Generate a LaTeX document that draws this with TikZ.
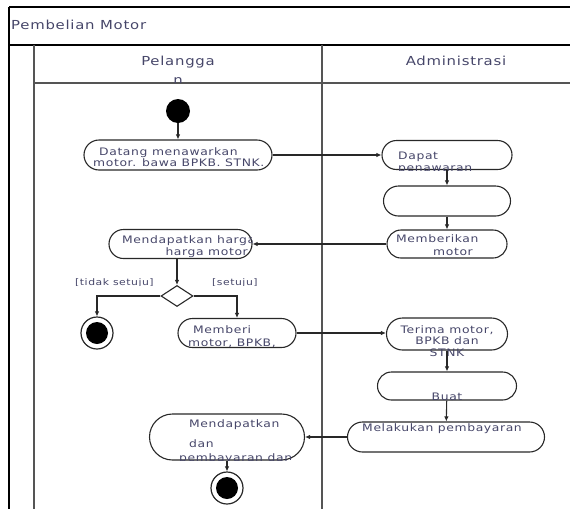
\documentclass[tikz,border=0pt]{standalone}
\usepackage{fontspec}
\setmainfont{DejaVu Sans}[FakeStretch=1.2, LetterSpace=6]
\usetikzlibrary{shapes.misc,shapes.geometric,arrows.meta}
\definecolor{txt}{RGB}{70,70,105}
\definecolor{edge}{RGB}{40,40,40}
\definecolor{frm}{RGB}{85,85,85}
% clip to the outline of a rounded activity box
\newcommand{\clipbox}[2]{\clip[rounded corners=#2] (#1.west |- #1.north) rectangle (#1.east |- #1.south);}
\begin{document}
\begin{tikzpicture}[x=1pt,y=-1pt,
  act/.style={draw=edge, line width=1.1pt, rounded rectangle, inner sep=0pt},
  lbl/.style={text=txt, font=\fontsize{10.3}{11.5}\selectfont, inner sep=0pt},
  guard/.style={text=txt, font=\fontsize{9}{10}\selectfont, inner sep=0pt, anchor=base west},
  hdr/.style={text=txt, font=\fontsize{12.4}{14}\selectfont, inner sep=0pt},
  flow/.style={draw=edge, line width=1.1pt, -{Latex[length=5pt,width=4.5pt]}},
  initial/.style={circle, fill=black, minimum size=24pt, inner sep=0pt},
  final/.style={circle, draw=edge, line width=1.2pt, minimum size=32pt, inner sep=0pt,
    path picture={\fill[black] (path picture bounding box.center) circle (11pt);}},
  choice/.style={diamond, draw=edge, line width=1.1pt, minimum width=32pt, minimum height=21pt, inner sep=0pt}]
\useasboundingbox (0,0) rectangle (570,509);

% swimlane frame
\draw[black, line width=1.4pt] (9,7) -- (9,509);
\draw[black, line width=2pt] (9,7) -- (575,7);
\draw[black, line width=2pt] (9,44.5) -- (575,44.5);
\draw[frm, line width=1.3pt] (34,44.5) -- (34,509);
\draw[frm, line width=1.3pt] (322,44.5) -- (322,509);
\draw[frm, line width=1.3pt] (34,83) -- (575,83);

\node[hdr, anchor=base west] (title) at (11,29.5) {Pembelian Motor};
\node[hdr, anchor=base] (lane1) at (178,65) {Pelangga};
\begin{scope}
  \clip (34,45) rectangle (322,82.5);
  \node[hdr, anchor=base] (lane1b) at (178,84.5) {n};
\end{scope}
\node[hdr, anchor=base] (lane2) at (456,65) {Administrasi};

% activity nodes
\node[initial] (start) at (178,111) {};
\node[act, minimum width=188pt, minimum height=30pt] (b1) at (178,155) {};
\node[act, minimum width=130pt, minimum height=29pt] (b2) at (447,155) {};
\node[act, minimum width=127pt, minimum height=30pt] (b3) at (447,201) {};
\node[act, minimum width=120pt, minimum height=28pt] (b4) at (447,244) {};
\node[act, minimum width=143pt, minimum height=29pt] (b5) at (180.5,244) {};
\node[choice] (dec) at (177,296) {};
\node[final] (end1) at (97,333) {};
\node[act, minimum width=118pt, minimum height=29pt] (b6) at (237,333) {};
\node[act, minimum width=121pt, minimum height=32pt] (b7) at (447,334) {};
\node[act, minimum width=139pt, minimum height=28pt] (b8) at (447,386) {};
\node[act, minimum width=197pt, minimum height=30pt] (b9) at (446,437) {};
\node[act, minimum width=155pt, minimum height=46pt] (b10) at (227,437) {};
\node[final] (end2) at (227,488) {};

% texts
\node[lbl, anchor=base west] (t1a) at (99,155) {Datang menawarkan};
\node[lbl, anchor=base west] (t1b) at (93,166.5) {motor. bawa BPKB. STNK.};
\begin{scope}
  \clipbox{b2}{14pt}
  \node[lbl, anchor=base west] (t2a) at (398,159) {Dapat};
  \node[lbl, anchor=base west] (t2b) at (398,171) {penawaran};
\end{scope}
\begin{scope}
  \clipbox{b4}{13.5pt}
  \node[lbl, anchor=base west] (t4a) at (396,242.5) {Memberikan};
  \node[lbl, anchor=base west] (t4b) at (433,255) {motor};
\end{scope}
\begin{scope}
  \clipbox{b5}{14pt}
  \node[lbl, anchor=base west] (t5a) at (122,243) {Mendapatkan harga};
  \node[lbl, anchor=base east] (t5b) at (248,255) {harga motor};
\end{scope}
\begin{scope}
  \clipbox{b6}{14pt}
  \node[lbl, anchor=base west] (t6a) at (193,333) {Memberi};
  \node[lbl, anchor=base west] (t6b) at (188,346) {motor, BPKB,};
\end{scope}
\node[lbl, anchor=base] (t7a) at (447,333) {Terima motor,};
\node[lbl, anchor=base] (t7b) at (447,344.5) {BPKB dan};
\node[lbl, anchor=base] (t7c) at (447,356.5) {STNK};
\begin{scope}
  \clipbox{b8}{13.5pt}
  \node[lbl, anchor=base] (t8) at (447,400.5) {Buat};
\end{scope}
\node[lbl, anchor=base] (t9) at (442,431) {Melakukan pembayaran};
\begin{scope}
  \clipbox{b10}{22.5pt}
  \node[lbl, anchor=base west] (t10a) at (189,427) {Mendapatkan};
  \node[lbl, anchor=base west] (t10b) at (189,447) {dan};
  \node[lbl, anchor=base west] (t10c) at (179,461) {pembayaran dan};
\end{scope}

% guards
\begin{scope}
  \clip (60,270) rectangle (270,285.5);
  \node[guard] (g1) at (75,285.5) {[tidak setuju]};
  \node[guard] (g2) at (212,285.5) {[setuju]};
\end{scope}

% control flow
\draw[flow] (start) -- (b1);
\draw[flow] (b1.east) -- (b2.west);
\draw[flow] (b2) -- (b3);
\draw[flow] (b3) -- (b4);
\draw[flow] (b4.west) -- (b5.east);
\draw[flow] (b5.south -| dec.north) -- (dec.north);
\draw[flow] (dec.west) -| (end1.north);
\draw[flow] (dec.east) -| (b6.north);
\draw[flow] (b6.east) -- (b6.east -| b7.west);
\draw[flow] (b7) -- (b8);
\draw[flow] (b8) -- (b9);
\draw[flow] (b9.west) -- (b10.east);
\draw[flow] (b10) -- (end2);
\end{tikzpicture}
\end{document}
